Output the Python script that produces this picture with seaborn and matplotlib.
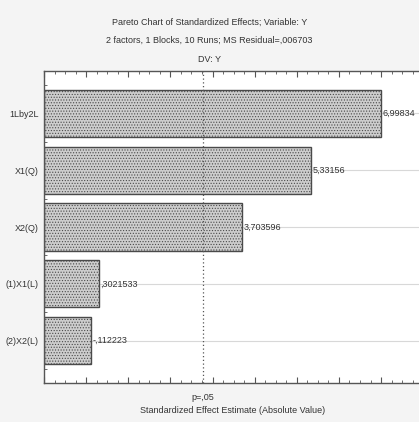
import seaborn as sns
import numpy as np
import pandas as pd
import matplotlib.pyplot as plt

# effects, in Pareto order
effects = ['1Lby2L', 'X1(Q)', 'X2(Q)', '(1)X1(L)', '(2)X2(L)']
t_values = [6.99834, 5.33156, 3.703596, 0.3021533, -0.112223]
value_labels = ['6,99834', '5,33156', '3,703596', ',3021533', '-,112223']
t_crit = 2.776  # p=.05, df=4

title_lines = ['Pareto Chart of Standardized Effects; Variable: Y',
               '2 factors, 1 Blocks, 10 Runs; MS Residual=,006703',
               'DV: Y']

df = pd.DataFrame({'effect': effects, 'abs_t': np.abs(t_values)})

sns.set_style('white')
plt.rcParams['font.family'] = ['Liberation Sans Narrow', 'Liberation Sans', 'DejaVu Sans']
plt.rcParams['hatch.linewidth'] = 0.5

fig = plt.figure(figsize=(4.19, 4.22), dpi=100, facecolor='#f4f4f4')
ax = fig.add_axes([0.105, 0.092, 0.905, 0.740])
ax.set_facecolor('white')

xmin, xmax = -1, 8
sns.barplot(data=df, y='effect', x='abs_t', orient='h', width=0.83,
            color='#cdcdcd', edgecolor='#4a4a4a', linewidth=1.0, ax=ax,
            zorder=2)

# Statistica draws bars from the left edge of the axis
for p in ax.patches:
    w = p.get_x() + p.get_width()
    p.set_x(xmin)
    p.set_width(w - xmin)
    p.set_hatch('......')

for i, (v, lab) in enumerate(zip(np.abs(t_values), value_labels)):
    ax.axhline(i, color='#d8d8d8', lw=0.8, zorder=1)
    ax.text(v + 0.04, i, lab, va='center', ha='left', fontsize=6.5,
            color='#333333', zorder=3)

ax.axvline(t_crit, color='#555555', lw=0.9, ls=(0, (1, 2)), zorder=3)

ax.set_xlim(xmin, xmax)
ax.set_ylim(4.75, -0.75)
ax.set_xticks(np.arange(xmin, xmax + 1, 1))
ax.set_xticks(np.arange(xmin, xmax + 0.01, 0.25), minor=True)
ax.set_xticklabels([])
ax.tick_params(axis='x', which='major', direction='in', length=4, top=True,
               bottom=True, color='#555555', width=0.8)
ax.tick_params(axis='x', which='minor', direction='in', length=2, top=True,
               bottom=True, color='#555555', width=0.6)
ax.set_yticks(range(len(effects)))
ax.set_yticks(np.arange(-0.5, 5, 1), minor=True)
ax.set_yticklabels(effects, fontsize=6.5, color='#333333')
ax.tick_params(axis='y', which='both', direction='in', length=2, left=True,
               color='#555555', width=0.6, pad=4)
ax.set_ylabel('')
ax.set_xlabel('')
for s in ax.spines.values():
    s.set_color('#555555')
    s.set_linewidth(1.0)

ax.text(t_crit, -0.03, 'p=,05', transform=ax.get_xaxis_transform(),
        ha='center', va='top', fontsize=6.5, color='#333333')
fig.text(0.555, 0.027, 'Standardized Effect Estimate (Absolute Value)',
         ha='center', va='center', fontsize=6.5, color='#333333')

for k, line in enumerate(title_lines):
    fig.text(0.5, 1 - (22 + 18.5 * k) / 422, line, ha='center', va='center',
             fontsize=6.5, color='#333333')

fig.savefig('out.png', dpi=100, facecolor=fig.get_facecolor())
